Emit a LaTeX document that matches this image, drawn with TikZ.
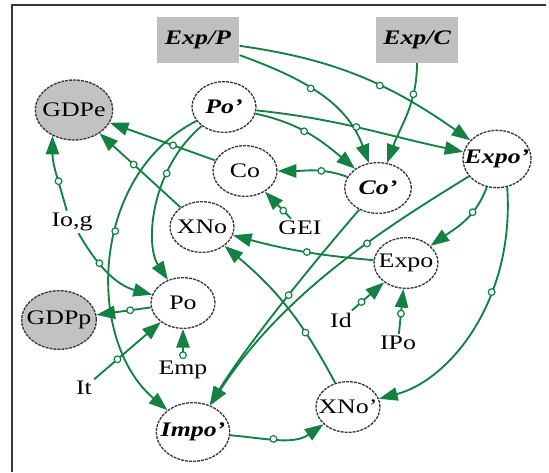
\documentclass[tikz,border=0pt]{standalone}
\usepackage{fontspec}
\setmainfont{Liberation Serif}[FakeStretch=1.25]
\usetikzlibrary{shapes.geometric,arrows.meta,decorations.markings}
\definecolor{linkgreen}{RGB}{20,128,68}
\definecolor{framegray}{RGB}{55,55,55}
\begin{document}
\begin{tikzpicture}[x=0.75pt,y=0.75pt,
  font=\fontsize{15.5}{17}\selectfont,
  var/.style={ellipse,draw=black!78,dash pattern=on 2.2pt off 0.8pt,line width=1pt,
    fill=white,inner sep=-10pt,minimum width=48pt,minimum height=38pt},
  prime/.style={var,font=\fontsize{15.5}{17}\selectfont\bfseries\itshape},
  shaded/.style={var,fill=black!24},
  exo/.style={fill=black!25,minimum width=62pt,minimum height=34pt,
    font=\fontsize{15.5}{17}\selectfont\bfseries\itshape},
  plain/.style={inner sep=1.5pt},
  ring/.style={circle,draw=linkgreen,fill=white,line width=0.9pt,inner sep=0pt,minimum size=5pt},
  link/.style={draw=linkgreen,line width=1.4pt,-{Triangle[length=14pt,width=10pt]},
    postaction={decorate},
    decoration={markings,mark=at position #1 with {\node[ring]{};}}},
  link/.default=0.5]
\useasboundingbox (0,0) rectangle (549,-472);
% frame
\draw[framegray,line width=1.5pt] (546,-5) -- (12,-5) -- (12,-472);
% exogenous inputs
\node[exo] (ExpP) at (198,-40) {Exp/P};
\node[exo] (ExpC) at (417,-40) {Exp/C};
% the variables
\node[shaded,minimum width=58pt,minimum height=45pt] (GDPe) at (74,-110) {GDPe};
\node[prime] (Pop) at (224,-107) {Po'};
\node[var] (Co) at (245,-171) {Co};
\node[prime,minimum width=50pt] (Cop) at (378,-188) {Co'};
\node[prime,minimum width=51pt,minimum height=43pt] (Expop) at (497,-159) {Expo'};
\node[var] (XNo) at (202,-227) {XNo};
\node[var] (Expo) at (406,-263) {Expo};
\node[var] (Po) at (183,-303) {Po};
\node[shaded,minimum width=56pt,minimum height=44pt] (GDPp) at (59,-320) {GDPp};
\node[prime,minimum width=55pt,minimum height=44pt] (Impop) at (193,-432) {Impo'};
\node[var] (XNop) at (348,-407) {XNo'};
% free inputs
\node[plain] (Iog) at (72,-222) {Io,g};
\node[plain] (GEI) at (300,-228) {GEI};
\node[plain] (Id) at (341,-320) {Id};
\node[plain] (IPo) at (398,-343) {IPo};
\node[plain] (Emp) at (183,-370) {Emp};
\node[plain] (It) at (84,-388) {It};
% links from the top
\draw[link=0.45] (ExpP) to[out=-20,in=110] (Cop);
\draw[link=0.58] (ExpP) to[out=-8,in=145] (Expop);
\draw[link=0.3] (ExpC) to[out=-90,in=70] (Cop);
\draw[link=0.45] (Pop) to[out=-12,in=140] (Cop);
\draw[link=0.48] (Pop) to[out=-6,in=168] (Expop);
\draw[link=0.38] (Cop) to[out=160,in=0] (Co);
% links into GDPe
\draw[link=0.4] (Co) -- (GDPe);
\draw[link=0.3] (GEI) -- (Co);
\draw[link=0.58] (XNo) -- (GDPe);
\draw[link=0.4] (Iog.115) to[out=105,in=-90] (GDPe.-130);
% links into Po and GDPp
\draw[link=0.37] (Iog) to[out=-60,in=165] (Po);
\draw[link=0.35] (Pop) .. controls (150,-170) and (145,-245) .. (Po);
\draw[link=0.42] (Pop) .. controls (90,-175) and (85,-340) .. (Impop);
\draw[link=0.38] (Po) -- (GDPp);
\draw[link=0.35] (It) -- (Po);
\draw[link=0.12] (Emp) -- (Po);
% links into XNo and Impo'
\draw[link=0.47] (Expo) to[out=175,in=-15] (XNo);
\draw[link=0.33] (XNop) to[out=118,in=-40] (XNo);
\draw[link=0.45] (Cop) .. controls (320,-255) and (250,-340) .. (Impop);
\draw[link=0.35] (Expop) .. controls (390,-225) and (285,-290) .. (Impop);
% links out of Expo'
\draw[link=0.35] (Expop) to[out=-110,in=35] (Expo);
\draw[link=0.4] (Expop.-70) .. controls (515,-300) and (450,-380) .. (XNop);
\draw[link=0.45] (Impop) to[out=-5,in=-145] (XNop);
\draw[link=0.3] (Id) -- (Expo);
\draw[link=0.45] (IPo) -- (Expo);
\end{tikzpicture}
\end{document}
